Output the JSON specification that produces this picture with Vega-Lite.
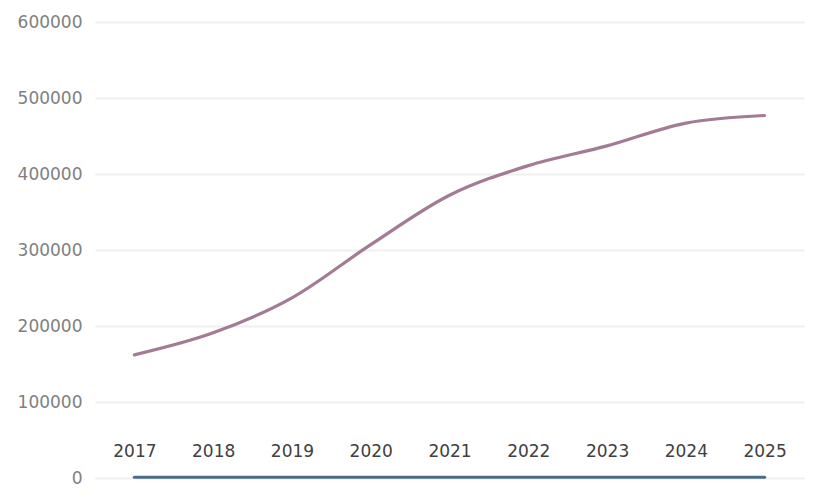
{
  "$schema": "https://vega.github.io/schema/vega-lite/v6.json",
  "width": 709,
  "height": 456,
  "autosize": "none",
  "padding": {"left": 95, "top": 22, "right": 23, "bottom": 25},
  "background": "white",
  "config": {"view": {"stroke": null}, "font": "DejaVu Sans"},
  "data": {
    "values": [
      {"year": "2017", "series": "A", "value": 162000},
      {"year": "2018", "series": "A", "value": 191000},
      {"year": "2019", "series": "A", "value": 237000},
      {"year": "2020", "series": "A", "value": 307000},
      {"year": "2021", "series": "A", "value": 372000},
      {"year": "2022", "series": "A", "value": 411000},
      {"year": "2023", "series": "A", "value": 437000},
      {"year": "2024", "series": "A", "value": 467000},
      {"year": "2025", "series": "A", "value": 477000},
      {"year": "2017", "series": "B", "value": 1000},
      {"year": "2018", "series": "B", "value": 1000},
      {"year": "2019", "series": "B", "value": 1000},
      {"year": "2020", "series": "B", "value": 1000},
      {"year": "2021", "series": "B", "value": 1000},
      {"year": "2022", "series": "B", "value": 1000},
      {"year": "2023", "series": "B", "value": 1000},
      {"year": "2024", "series": "B", "value": 1000},
      {"year": "2025", "series": "B", "value": 1000}
    ]
  },
  "mark": {"type": "line", "interpolate": "monotone", "strokeWidth": 3.2, "strokeCap": "round"},
  "encoding": {
    "x": {
      "field": "year",
      "type": "ordinal",
      "scale": {"type": "point", "padding": 0.5},
      "axis": {
        "title": null,
        "domain": false,
        "ticks": false,
        "grid": false,
        "labelAngle": 0,
        "labelFontSize": 17,
        "labelColor": "#404040",
        "labelBaseline": "alphabetic",
        "labelPadding": -22
      }
    },
    "y": {
      "field": "value",
      "type": "quantitative",
      "scale": {"domain": [0, 600000]},
      "axis": {
        "title": null,
        "domain": false,
        "ticks": false,
        "values": [0, 100000, 200000, 300000, 400000, 500000, 600000],
        "format": "d",
        "labelFontSize": 17,
        "labelColor": "#808080",
        "labelPadding": 13,
        "gridColor": "#efefef",
        "gridWidth": 2
      }
    },
    "color": {
      "field": "series",
      "type": "nominal",
      "scale": {"domain": ["A", "B"], "range": ["#a27b94", "#4a6b8a"]},
      "legend": null
    }
  }
}
